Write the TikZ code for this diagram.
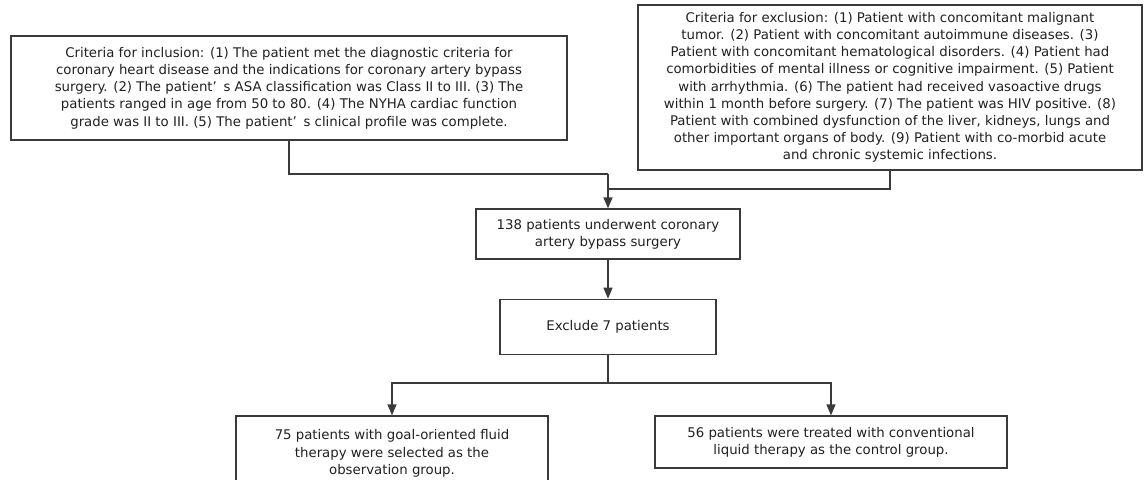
\documentclass[tikz,border=0pt]{standalone}
\usepackage{fontspec}
\setmainfont{DejaVu Sans}
\usepackage{xcolor}
\usepackage{tikz}
\usetikzlibrary{arrows.meta,positioning}
\definecolor{lnc}{HTML}{3A3A3A}
\newcommand{\apo}{’\hspace{0.5em}}

\begin{document}
\begin{tikzpicture}[x=1pt, y=-1pt, font=\fontsize{13.3}{17.2}\selectfont, box/.style={draw=lnc, line width=1.3pt, fill=white, align=center, inner sep=0pt, text=black!87}, ln/.style={draw=lnc, line width=1.3pt}, arr/.style={ln, -{Triangle[length=11pt, width=9pt]}}]
\useasboundingbox (0,0) rectangle (1145,479);
\clip (0,0) rectangle (1145,479);
\node[box, minimum width=556pt, minimum height=104pt] (incl) at (289,88) {Criteria for inclusion: (1) The patient met the diagnostic criteria for\\coronary heart disease and the indications for coronary artery bypass\\surgery. (2) The patient\apo s ASA classification was Class II to III. (3) The\\patients ranged in age from 50 to 80. (4) The NYHA cardiac function\\grade was II to III. (5) The patient\apo s clinical profile was complete.};
\node[box, minimum width=504pt, minimum height=165pt] (excl) at (890,87.5) {Criteria for exclusion: (1) Patient with concomitant malignant\\tumor. (2) Patient with concomitant autoimmune diseases. (3)\\Patient with concomitant hematological disorders. (4) Patient had\\comorbidities of mental illness or cognitive impairment. (5) Patient\\with arrhythmia. (6) The patient had received vasoactive drugs\\within 1 month before surgery. (7) The patient was HIV positive. (8)\\Patient with combined dysfunction of the liver, kidneys, lungs and\\other important organs of body. (9) Patient with co-morbid acute\\and chronic systemic infections.};
\node[box, minimum width=264pt, minimum height=50pt] (total) at (608,234) {138 patients underwent coronary\\artery bypass surgery};
\node[box, minimum width=216pt, minimum height=55pt, below=39pt of total] (ex7) {Exclude 7 patients};
\node[box, minimum width=312pt, minimum height=75pt] (obs) at (392,453.5) {75 patients with goal-oriented fluid\\therapy were selected as the\\observation group.};
\node[box, minimum width=352pt, minimum height=52pt] (ctrl) at (831,442) {56 patients were treated with conventional\\liquid therapy as the control group.};
\coordinate (j1) at (608,174);
\coordinate (j2) at (608,189);
\coordinate (split) at (608,383);
\draw[ln] (incl.south) |- (j1);
\draw[ln] (excl.south) |- (j2);
\draw[arr] (j1) -- (total.north);
\draw[arr] (total) -- (ex7);
\draw[ln] (ex7.south) -- (split);
\draw[arr] (split) -| (obs.north);
\draw[arr] (split) -| (ctrl.north);
\end{tikzpicture}
\end{document}
